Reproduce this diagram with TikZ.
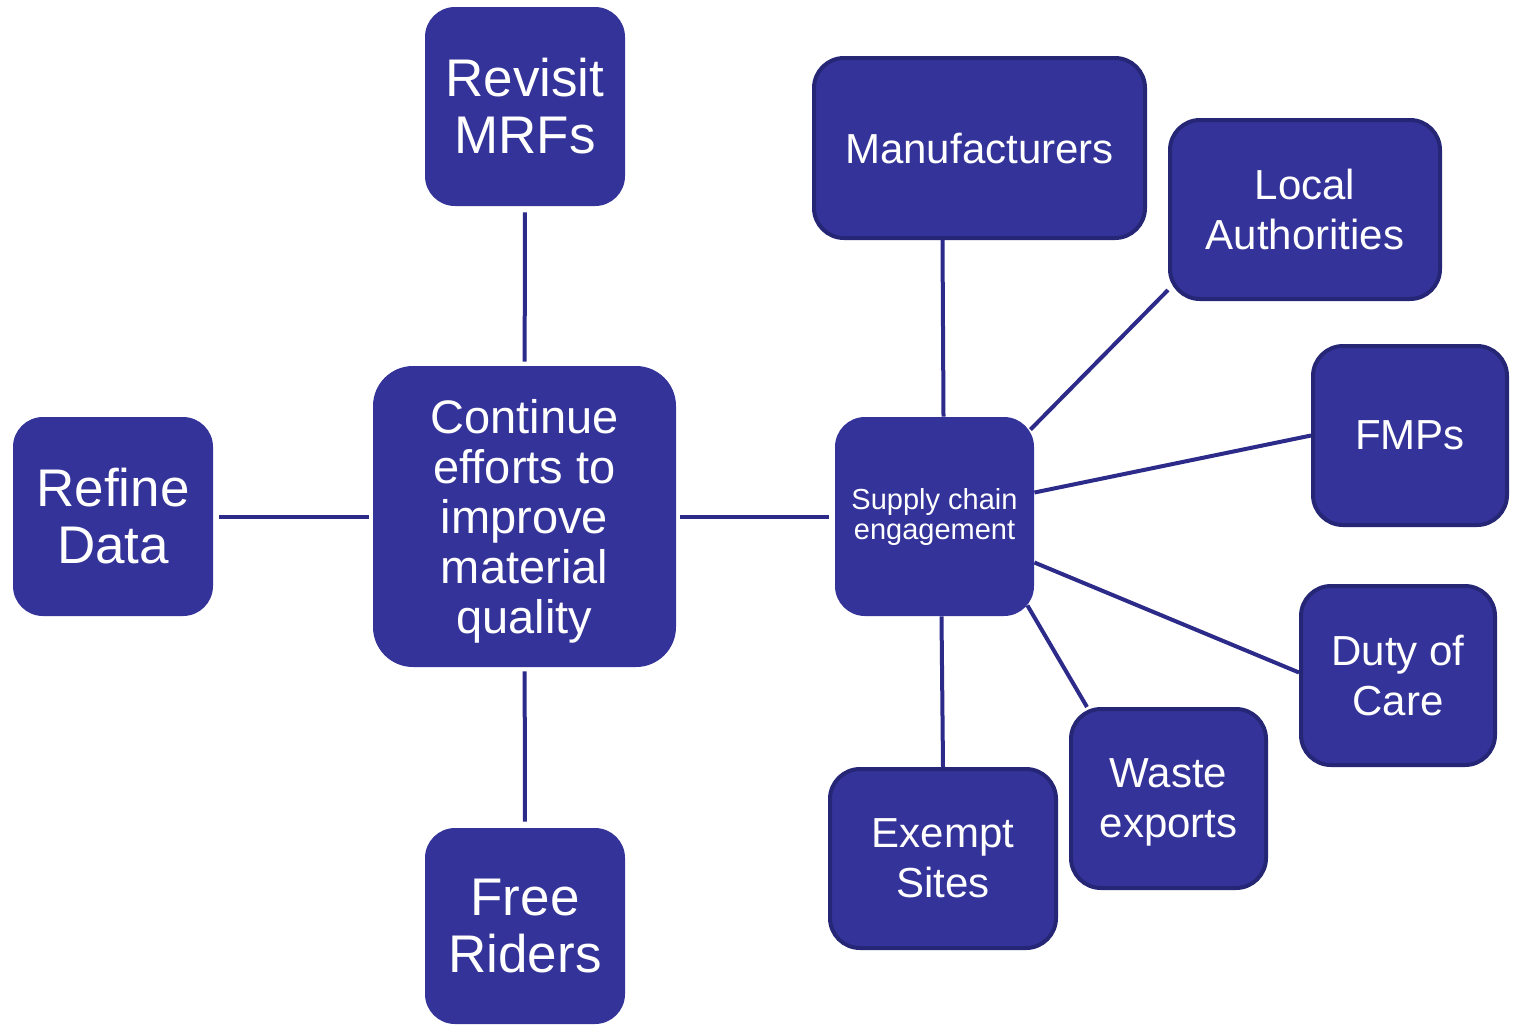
\documentclass[tikz,border=0pt]{standalone}
\usepackage{fontspec}
\setmainfont{Liberation Sans}
\usetikzlibrary{calc}
\definecolor{boxblue}{RGB}{52,51,153}
\definecolor{edgeblue}{RGB}{38,38,118}
\definecolor{lineblue}{RGB}{44,43,138}
\newcommand{\bigtxt}{\fontsize{26.5}{28.5}\selectfont}
\newcommand{\midtxt}{\fontsize{23.5}{25}\selectfont}
\newcommand{\rtxt}{\fontsize{21}{25}\selectfont}
\newcommand{\smalltxt}{\fontsize{14.5}{15}\selectfont}

\begin{document}
\begin{tikzpicture}[x=0.5pt,y=-0.5pt,
    box/.style={rectangle, rounded corners=15pt, fill=boxblue, text=white,
      align=center, inner sep=0pt},
    rbox/.style={box, draw=edgeblue, line width=2pt, font=\rtxt, text depth=0pt},
    link/.style={draw=lineblue, line width=2pt}]
    \useasboundingbox (0,0) rectangle (1515,1025);

    \node[box, font=\bigtxt, minimum width=100pt, minimum height=99.5pt] (MRF) at (525,106.5) {Revisit\\ MRFs};
    \node[box, font=\bigtxt, minimum width=100pt, minimum height=99.5pt] (Data) at (113,516.5) {Refine\\ Data};
    \node[box, font=\bigtxt, minimum width=100pt, minimum height=98pt] (Riders) at (525,926) {Free\\ Riders};
    \node[box, font=\midtxt, text depth=0pt, rounded corners=20pt, minimum width=151.5pt, minimum height=150.5pt] (Cont) at (524.5,516.5)
      {Continue\\ efforts to\\ improve\\ material\\ quality};
    \node[box, font=\smalltxt, minimum width=99.5pt, minimum height=99.5pt] (Supply) at (934.5,516.5)
      {Supply chain\\ engagement};

    \node[rbox, minimum width=165.5pt, minimum height=90pt] (Manu) at (979.5,148) {Manufacturers};
    \node[rbox, minimum width=135pt, minimum height=89.5pt] (LA) at (1305,209.5) {Local\\ Authorities};
    \node[rbox, minimum width=97pt, minimum height=89.5pt] (FMP) at (1410,435.5) {FMPs};
    \node[rbox, minimum width=97pt, minimum height=89.5pt] (DoC) at (1398,675.5) {Duty of\\ Care};
    \node[rbox, minimum width=97.5pt, minimum height=89.5pt] (Waste) at (1168.5,798.5) {Waste\\ exports};
    \node[rbox, minimum width=113pt, minimum height=89.5pt] (Exempt) at (943,858.5) {Exempt\\ Sites};

    \draw[link, shorten <=3pt, shorten >=2pt] (MRF) -- (Cont);
    \draw[link, shorten <=3pt, shorten >=2pt] (Data) -- (Cont);
    \draw[link, shorten <=2pt, shorten >=3pt] (Cont) -- (Riders);
    \draw[link, shorten <=2pt, shorten >=3pt] (Cont) -- (Supply);

    \draw[link] ([xshift=-18.5pt]Manu.south) -- ([xshift=4.5pt]Supply.north);
    \draw[link] ([shift={(-4,13)}]Supply.north east) -- ([shift={(0,-11)}]LA.south west);
    \draw[link] ([shift={(0,-24)}]Supply.east) -- (FMP.west);
    \draw[link] ([shift={(0,46)}]Supply.east) -- ([shift={(0,-3)}]DoC.west);
    \draw[link] ([shift={(-7,-11)}]Supply.south east) -- ([shift={(18,0)}]Waste.north west);
    \draw[link] ([shift={(7,0)}]Supply.south) -- (Exempt.north);
\end{tikzpicture}
\end{document}
